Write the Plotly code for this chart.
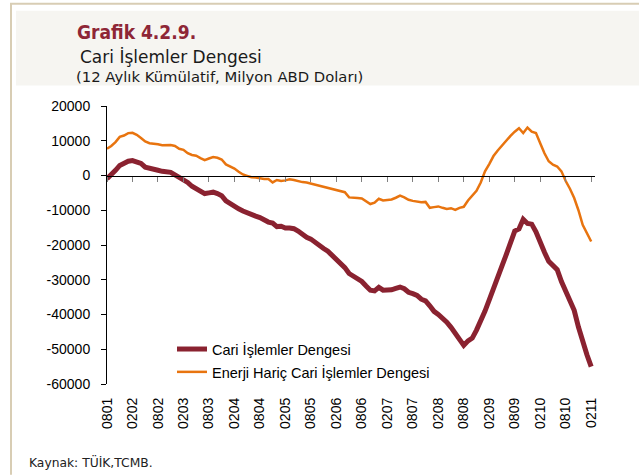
import plotly.graph_objects as go

# ---------------- data ----------------
tick_labels = ["0801", "0202", "0802", "0203", "0803", "0204", "0804", "0205", "0805", "0206",
               "0806", "0207", "0807", "0208", "0808", "0209", "0809", "0210", "0810", "0211"]

cari = [-900, 200, 1500, 2900, 3600, 4100, 4300, 3900, 3500, 2400,
        2000, 1800, 1500, 1200, 1000, 900, 200, -600, -1000, -2000,
        -3100, -3700, -4300, -5200, -5000, -4800, -5200, -5800, -7300, -8200,
        -8900, -9600, -10200, -10800, -11300, -11700, -12100, -12800, -13400, -13700,
        -14700, -14600, -15100, -15100, -15300, -16000, -17000, -17800, -18300, -19300,
        -19900, -21000, -21800, -23000, -24000, -25000, -26500, -28200, -29000, -29700,
        -30500, -31800, -33000, -33200, -32200, -33000, -33000, -32900, -32500, -32100,
        -32600, -33600, -34000, -34500, -35600, -36100, -37500, -39100, -40000, -41000,
        -42200, -43700, -45600, -47200, -48900, -47600, -46800, -44500, -42000, -39000,
        -35800, -32800, -29500, -26000, -22800, -19200, -16000, -15400, -12600, -13800,
        -14000, -16200, -19400, -22100, -24700, -25900, -27100, -30500, -33000, -35800,
        -38800, -43600, -48200, -51600, -55000]

enerji_haric = [7700, 8500, 9600, 11100, 11500, 12200, 12300, 11700, 10800, 9800,
                9300, 9200, 9000, 8700, 8700, 8800, 8500, 7700, 7400, 6400,
                5900, 5700, 5000, 4400, 4900, 5300, 5100, 4600, 3200, 2700,
                2000, 1100, 300, -100, -500, -600, -900, -1000, -1000, -2000,
                -1300, -1600, -1400, -1100, -1300, -1700, -1900, -2000, -2300, -2700,
                -2800, -3100, -3500, -3800, -4100, -4400, -4800, -6300, -6300, -6500,
                -6600, -7500, -8200, -7800, -6700, -7200, -7100, -6900, -6400, -5800,
                -6300, -7000, -7300, -7600, -7700, -7600, -9300, -9100, -8900, -9300,
                -9600, -9400, -9900, -9300, -9000, -7200, -5800, -4400, -2000, 1200,
                3300, 5600, 7200, 8700, 10000, 11400, 12600, 13600, 12200, 13800,
                12600, 12200, 9300, 6400, 4100, 3100, 2600, 1200, -1600, -3800,
                -6500, -10000, -14200, -16800, -19000]

y_ticks = [20000, 10000, 0, -10000, -20000, -30000, -40000, -50000, -60000]
y_tick_text = ["20000", "10000", "0", "-10000", "-20000", "-30000", "-40000", "-50000", "-60000"]

months = list(range(len(cari)))
tick_pos = [i * 6 for i in range(len(tick_labels))]

# ---------------- layout helpers ----------------
W_PX, H_PX = 639, 475
L, R, T, B = 107, 595, 105.5, 384
PW, PH = R - L, B - T


def px(x):
    return (x - L) / PW


def py(y):
    return (B - y) / PH


RED = "#8A2230"
ORANGE = "#E8740F"
TAN = "#D8CDB4"
AX_FONT = dict(family="Liberation Sans, Arial, sans-serif", size=14.5, color="#000000")
HDR_FONT = "'DejaVu Sans', sans-serif"

fig = go.Figure()
fig.add_trace(go.Scatter(x=months, y=cari, mode="lines", name="Cari İşlemler Dengesi",
                         line=dict(color=RED, width=5), legendgroup="a"))
fig.add_trace(go.Scatter(x=months, y=enerji_haric, mode="lines",
                         name="Enerji Hariç Cari İşlemler Dengesi",
                         line=dict(color=ORANGE, width=2.5), legendgroup="b"))
# invisible helper trace so the zero-line axis (with tick marks) is drawn
fig.add_trace(go.Scatter(x=months, y=cari, xaxis="x2", mode="lines", opacity=0,
                         showlegend=False, hoverinfo="skip", line=dict(width=0)))

shapes = [
    # header panel
    dict(type="rect", xref="paper", yref="paper", x0=px(16), x1=px(639), y0=py(85), y1=py(10),
         fillcolor="#F6F5F1", line=dict(width=0), layer="below"),
    # frame lines
    dict(type="line", xref="paper", yref="paper", x0=px(10), x1=px(639), y0=py(3), y1=py(3),
         line=dict(color=TAN, width=2)),
    dict(type="line", xref="paper", yref="paper", x0=px(11), x1=px(11), y0=py(3), y1=py(475),
         line=dict(color=TAN, width=2)),
]

annotations = [
    dict(text="Grafik 4.2.9.", x=px(75), y=py(31), xref="paper", yref="paper",
         xanchor="left", yanchor="middle", showarrow=False,
         font=dict(family="'DejaVu Sans Condensed', 'DejaVu Sans', sans-serif", size=19,
                   color="#8E2636", weight="bold")),
    dict(text="Cari İşlemler Dengesi", x=px(78), y=py(56), xref="paper", yref="paper",
         xanchor="left", yanchor="middle", showarrow=False,
         font=dict(family=HDR_FONT, size=17, color="#1a1a1a")),
    dict(text="(12 Aylık Kümülatif, Milyon ABD Doları)", x=px(74), y=py(76), xref="paper", yref="paper",
         xanchor="left", yanchor="middle", showarrow=False,
         font=dict(family=HDR_FONT, size=14.8, color="#1a1a1a")),
    dict(text="Kaynak: TÜİK,TCMB.", x=px(27), y=py(462), xref="paper", yref="paper",
         xanchor="left", yanchor="middle", showarrow=False,
         font=dict(family=HDR_FONT, size=12.3, color="#222222")),
]

fig.update_layout(
    width=W_PX, height=H_PX,
    margin=dict(l=L, r=W_PX - R, t=T, b=H_PX - B, pad=0),
    paper_bgcolor="white", plot_bgcolor="white",
    showlegend=True,
    legend=dict(x=px(172), y=py(333), xanchor="left", yanchor="top",
                font=AX_FONT, bgcolor="rgba(0,0,0,0)", tracegroupgap=1,
                itemwidth=30),
    xaxis=dict(range=[0, 114.9], tickvals=tick_pos, ticktext=tick_labels, tickangle=-90,
               showline=False, showgrid=False, zeroline=False, ticks="",
               tickfont=dict(AX_FONT, size=14), ticklabelstandoff=10),
    xaxis2=dict(range=[0, 114.9], overlaying="x", anchor="free", position=py(175.7),
                side="bottom", showline=True, linecolor="#000000", linewidth=1,
                ticks="outside", ticklen=5, tickcolor="#808080", tickwidth=1,
                tickvals=tick_pos, showticklabels=False, showgrid=False, zeroline=False),
    yaxis=dict(range=[-60000, 20000], tickvals=y_ticks, ticktext=y_tick_text,
               showline=True, linecolor="#000000", linewidth=1, ticks="outside", ticklen=5,
               tickcolor="#000000", showgrid=False, zeroline=False,
               tickfont=dict(AX_FONT, size=14), ticklabelstandoff=8),
    shapes=shapes, annotations=annotations,
)

fig.write_html("out.html", post_script="document.body.style.margin='0';",
               config={"displayModeBar": False})
